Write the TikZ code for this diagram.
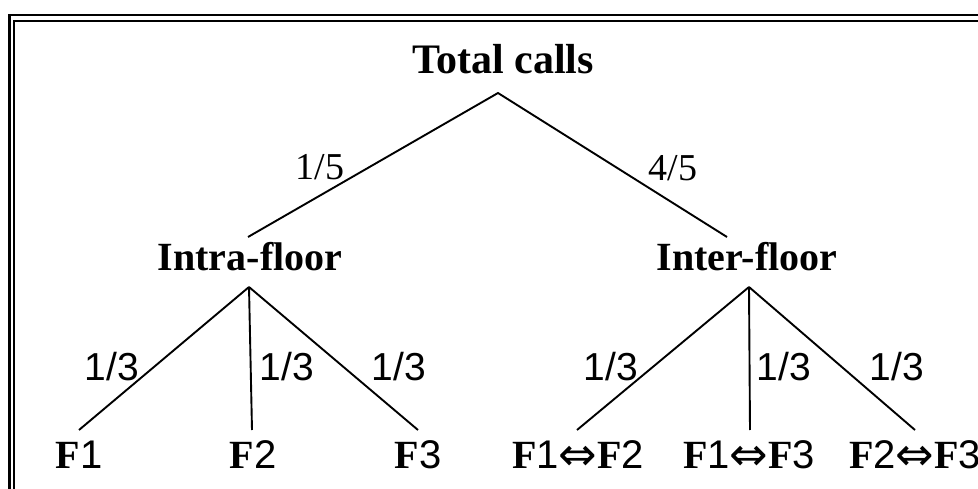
\documentclass[tikz,border=0pt]{standalone}
\usepackage{fontspec}
\setmainfont{Liberation Serif}
\newfontfamily\arialf{Liberation Sans}
\newfontfamily\arrowf{DejaVu Sans}

% a floor label: bold serif F, sans digit
\newcommand\flr[1]{\textbf{F}{\arialf #1}}
\newcommand\flrpair[2]{\flr{#1}\raisebox{-2pt}{\fontsize{46}{50}\selectfont\arrowf ⇔}\flr{#2}}

\tikzset{
  head/.style={font=\fontsize{40}{48}\selectfont\bfseries, inner sep=0pt, anchor=base},
  ratio/.style={font=\fontsize{38}{46}\selectfont, inner sep=0pt, anchor=base},
  share/.style={font=\fontsize{39}{46}\selectfont\arialf, inner sep=0pt, anchor=base},
  leaf/.style={font=\fontsize{40}{48}\selectfont, inner sep=0pt, anchor=base},
  branch/.style={line width=1.9pt},
  frame/.style={line width=2.3pt},
}

\begin{document}
\begin{tikzpicture}[x=1pt,y=1pt]
\useasboundingbox (0,0) rectangle (978,488);
\clip (0,0) rectangle (978,488);
\fill[white] (0,0) rectangle (978,488);

% double frame (open to the right and bottom)
\draw[frame] (9.5,-10) -- (9.5,472.8) -- (1000,472.8);
\draw[frame] (14.2,-10) -- (14.2,466.8) -- (1000,466.8);

% headings
\node[head, font=\fontsize{42}{50}\selectfont\bfseries] (total) at (503,414) {Total calls};
\node[head] (intra) at (250,217) {Intra-floor};
\node[head] (inter) at (747,217) {Inter-floor};

% leaves
\node[leaf] (f1) at (79,20) {\flr{1}};
\node[leaf] (f2) at (253,20) {\flr{2}};
\node[leaf] (f3) at (418,20) {\flr{3}};
\node[leaf] (f12) at (578,20) {\flrpair{1}{2}};
\node[leaf] (f13) at (749,20) {\flrpair{1}{3}};
\node[leaf] (f23) at (915,20) {\flrpair{2}{3}};

% branch end points
\coordinate (total-out) at (498,395);
\coordinate (intra-in) at (248,251);
\coordinate (inter-in) at (727,251);
\coordinate (intra-out) at (249,201);
\coordinate (inter-out) at (749,201);
\coordinate (f1-in) at (79,58);
\coordinate (f2-in) at (252,58);
\coordinate (f3-in) at (418,58);
\coordinate (f12-in) at (577,58);
\coordinate (f13-in) at (750,58);
\coordinate (f23-in) at (915,58);

% branches
\draw[branch] (intra-in) -- (total-out) -- (inter-in);
\draw[branch] (intra-out) -- (f1-in);
\draw[branch] (intra-out) -- (f2-in);
\draw[branch] (intra-out) -- (f3-in);
\draw[branch] (inter-out) -- (f12-in);
\draw[branch] (inter-out) -- (f13-in);
\draw[branch] (inter-out) -- (f23-in);

% branch shares
\node[ratio] (r-intra) at (320,308) {1/5};
\node[ratio] (r-inter) at (673,307) {4/5};
\node[share] (s1) at (112,108) {1/3};
\node[share] (s2) at (287,108) {1/3};
\node[share] (s3) at (399,108) {1/3};
\node[share] (s4) at (611,108) {1/3};
\node[share] (s5) at (784,108) {1/3};
\node[share] (s6) at (897,108) {1/3};
\end{tikzpicture}
\end{document}
